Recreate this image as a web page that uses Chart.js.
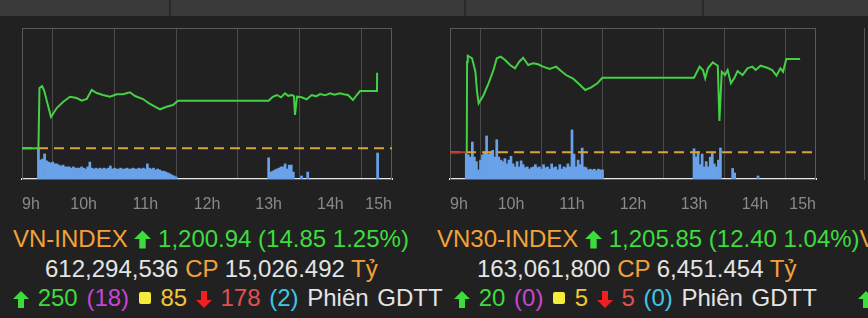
<!DOCTYPE html>
<html>
<head>
<meta charset="utf-8">
<script src="https://cdn.jsdelivr.net/npm/chart.js@4.4.1/dist/chart.umd.min.js"></script>
<style>
  body { margin: 0; background: #212121; width: 868px; height: 318px; overflow: hidden; position: relative;
         font-family: "Liberation Sans", Arial, sans-serif; }
  .topbar { position: absolute; left: 0; top: 0; width: 868px; height: 16px; background: #3a3a3a; }
  .div { position: absolute; top: 0; width: 2px; height: 16px; background: #2a2a2a; }
  canvas { position: absolute; top: 0; }
  .row { position: absolute; white-space: nowrap; font-size: 24px; line-height: 30px; }
  .r3 { word-spacing: 2px; }
  .o { color: #f3a23a; }
  .g { color: #3ddc3d; }
  .w { color: #e4e4e4; }
  .m { color: #c646d6; }
  .y { color: #f2c53a; }
  .r { color: #e25050; }
  .c { color: #42c6e4; }
  .sq { display: inline-block; width: 12px; height: 12px; background: #f4ee3a; border-radius: 2px; vertical-align: 2px; margin: 0 1px; }
  svg { vertical-align: -2px; }
</style>
</head>
<body>
<div class="topbar"></div>
<div class="div" style="left:169px"></div>
<div class="div" style="left:464px"></div>
<div class="div" style="left:702px"></div>
<div style="position:absolute;left:864px;top:28px;width:1px;height:152px;background:#555"></div>

<canvas id="vnChart" width="434" height="220" style="left:0"></canvas>
<canvas id="vn30Chart" width="434" height="220" style="left:434px"></canvas>

<div class="row" style="left:13px;top:224px">
  <span class="o">VN-INDEX</span>
  <svg width="17" height="19" viewBox="0 0 16 17"><polygon points="8,0 16,8 11,8 11,17 5,17 5,8 0,8" fill="#3ddc3d"/></svg>
  <span class="g">1,200.94 (14.85 1.25%)</span>
</div>
<div class="row" style="left:45px;top:254px">
  <span class="w">612,294,536</span> <span class="o">CP</span> <span class="w">15,026.492</span> <span class="o">Tỷ</span>
</div>
<div class="row r3" style="left:13px;top:283px">
  <svg width="16" height="17" viewBox="0 0 16 17"><polygon points="8,0 16,8 11,8 11,17 5,17 5,8 0,8" fill="#3ddc3d"/></svg>
  <span class="g">250</span> <span class="m">(18)</span> <span class="sq"></span> <span class="y">85</span>
  <svg width="16" height="17" viewBox="0 0 16 17"><polygon points="8,17 16,9 11,9 11,0 5,0 5,9 0,9" fill="#ee2020"/></svg>
  <span class="r">178</span> <span class="c">(2)</span> <span class="w">Phiên GDTT</span>
</div>

<div class="row" style="left:437px;top:224px">
  <span class="o">VN30-INDEX</span>
  <svg width="17" height="19" viewBox="0 0 16 17"><polygon points="8,0 16,8 11,8 11,17 5,17 5,8 0,8" fill="#3ddc3d"/></svg>
  <span class="g">1,205.85 (12.40 1.04%)</span><span class="o">V</span>
</div>
<div class="row" style="left:477px;top:254px">
  <span class="w">163,061,800</span> <span class="o">CP</span> <span class="w">6,451.454</span> <span class="o">Tỷ</span>
</div>
<div class="row r3" style="left:454px;top:283px">
  <svg width="16" height="17" viewBox="0 0 16 17"><polygon points="8,0 16,8 11,8 11,17 5,17 5,8 0,8" fill="#3ddc3d"/></svg>
  <span class="g">20</span> <span class="m">(0)</span> <span class="sq"></span> <span class="y">5</span>
  <svg width="16" height="17" viewBox="0 0 16 17"><polygon points="8,17 16,9 11,9 11,0 5,0 5,9 0,9" fill="#ee2020"/></svg>
  <span class="r">5</span> <span class="c">(0)</span> <span class="w">Phiên GDTT</span>
</div>
<div class="row" style="left:858px;top:283px">
  <svg width="16" height="17" viewBox="0 0 16 17"><polygon points="8,0 16,8 11,8 11,17 5,17 5,8 0,8" fill="#3ddc3d"/></svg>
</div>

<script>
// x axis: minutes after 9:00
const hourLabels = ["9h", "10h", "11h", "12h", "13h", "14h", "15h"];

// VN-INDEX
const vnRef = 1186.09;
const vnTimes = [0, 16, 17, 19.5, 21.4, 28.2, 33.8, 39.9, 46.7, 53.2, 58.1, 63, 67.8, 72.7, 78.8, 85.6, 92.1, 98.3, 105, 110,
  117.7, 124.5, 134.3, 140.8, 146.9, 151.8, 240, 244, 248, 252, 255.9, 259, 262.7, 264.6, 265.6, 267.6, 272.1, 277, 281.9, 286,
  290, 295, 299.7, 304, 309.4, 313, 317.2, 322, 325.7, 328.9, 345.4, 345.5];
const vnPrices = [1186.09, 1186.09, 1197.93, 1198.33, 1197.54, 1192.24, 1194.00, 1195.18, 1196.22, 1195.97, 1195.44, 1195.77, 1197.54, 1196.95, 1196.56, 1196.22, 1196.70, 1196.70, 1197.09, 1196.36,
  1195.77, 1194.79, 1193.75, 1194.26, 1194.59, 1195.44, 1195.44, 1196.2, 1196.56, 1196.1, 1196.89, 1196.4, 1196.56, 1196.36, 1192.63, 1196.22, 1196.11, 1195.71, 1196.56, 1196.3,
  1196.75, 1196.5, 1196.89, 1196.6, 1196.89, 1196.7, 1196.56, 1195.58, 1196.56, 1197.34, 1197.34, 1200.94];
// volume, million shares per 2 minutes
const vnVolAm = [10.3, 6.3, 6.6, 8.3, 6.0, 5.6, 5.3, 5.6, 5.0, 5.0, 4.6, 4.3, 4.6, 4.0, 4.0, 4.0, 3.6, 4.0, 3.6, 3.6,
  3.6, 4.0, 3.6, 3.3, 4.0, 5.6, 3.6, 3.3, 3.6, 3.3, 3.6, 3.3, 3.6, 3.3, 3.6, 4.3, 3.3, 3.6, 3.3, 3.3,
  3.6, 3.3, 3.3, 3.6, 3.3, 3.3, 3.6, 3.3, 3.3, 3.6, 3.3, 3.6, 3.3, 5.0, 3.6, 3.3, 3.6, 3.0, 3.3, 3.0,
  2.6, 2.6, 2.3, 2.0, 1.7, 1.3, 1.0, 0.7];
const vnVolPm = [7.0, 2.3, 2.6, 3.0, 3.3, 3.6, 4.0, 4.0, 5.0, 3.3, 4.6, 4.6, 2.3];
const vnVolExtraTimes = [272, 278, 346];
const vnVolExtra = [1.0, 2.3, 8.6];

// VN30-INDEX
const vn30Ref = 1193.45;
const vn30Times = [0, 16.5, 16.8, 17.5, 21.7, 25, 26.6, 28.2, 33.1, 37.9, 42.8, 46, 49.9, 54.2, 59.1, 63.9, 68.1, 72, 76.9, 81.7,
  86.6, 91.5, 98, 104.4, 109.3, 114.1, 120.7, 127.2, 133, 138.5, 145, 149.8, 240, 245.5, 248.8, 251, 253.7, 258.5, 263.4, 265,
  267.3, 270.5, 273.1, 276.3, 279.5, 282.9, 287.7, 292.6, 297.4, 300.7, 305.5, 312, 316.9, 321.1, 325, 327.6, 330.8, 344.4];
const vn30Prices = [1193.45, 1193.45, 1205.49, 1206.29, 1205.94, 1204.16, 1201.50, 1199.96, 1201.07, 1202.62, 1204.39, 1205.94, 1206.16, 1205.72, 1205.05, 1204.61, 1205.49, 1206.02, 1205.05, 1205.28,
  1205.15, 1204.83, 1204.52, 1204.83, 1204.25, 1203.72, 1203.28, 1202.49, 1201.73, 1202.04, 1202.62, 1203.36, 1203.36, 1204.83, 1204.39, 1203.28, 1204.61, 1205.41, 1204.96, 1197.61,
  1204.16, 1203.72, 1204.39, 1202.62, 1203.28, 1204.25, 1203.72, 1204.61, 1204.83, 1204.39, 1204.96, 1204.69, 1204.39, 1203.63, 1204.61, 1204.16, 1205.85, 1205.85];
const vn30VolAm = [3.4, 3.2, 2.9, 4.9, 2.9, 2.3, 1.2, 2.5, 3.2, 3.6, 5.7, 3.3, 3.6, 3.8, 2.9, 5.2, 2.9, 2.5, 2.3, 2.7,
  2.0, 2.5, 3.0, 2.0, 1.6, 2.3, 1.6, 2.4, 1.9, 1.5, 1.6, 1.3, 1.5, 1.6, 1.9, 1.5, 1.6, 1.3, 1.9, 1.5,
  1.6, 1.3, 2.0, 1.5, 1.6, 1.2, 1.9, 1.3, 1.6, 1.5, 2.0, 1.6, 6.5, 3.3, 1.6, 2.5, 1.9, 4.1, 1.6, 1.5,
  1.2, 1.3, 1.2, 1.3, 1.1, 1.3, 1.2, 1.2];
const vn30VolPm = [4.0, 2.9, 3.6, 1.9, 3.3, 1.6, 2.3, 1.6, 2.9, 3.6, 2.0, 1.6, 2.5, 4.1];
const vn30VolExtraTimes = [278, 280, 303];
const vn30VolExtra = [1.4, 0.8, 0.4];

const AM_START = 16, PM_START = 240, BIN = 2;

// outline of the plot area (top / left / right), bottom line comes from the x axis border
const frame = {
  id: "frame",
  beforeDatasetsDraw(chart) {
    const { ctx, chartArea: a } = chart;
    ctx.save();
    ctx.strokeStyle = "#5a5a5a";
    ctx.lineWidth = 1;
    ctx.strokeRect(a.left + 0.5, a.top + 0.5, a.right - a.left - 1, a.bottom - a.top);
    ctx.restore();
  }
};

function volPoints(am, pm, extraT, extraV) {
  const pts = [];
  am.forEach((v, i) => pts.push({ x: AM_START + i * BIN, y: v }));
  pm.forEach((v, i) => pts.push({ x: PM_START + i * BIN, y: v }));
  extraT.forEach((t, i) => pts.push({ x: t, y: extraV[i] }));
  return pts;
}

function drawChart(id, times, prices, ref, vols, yMin, yMax, volMax, pad, openColor) {
  const openEnd = times[1];
  new Chart(document.getElementById(id), {
    type: "line",
    data: {
      datasets: [
        {
          data: times.map((t, i) => ({ x: t, y: prices[i] })),
          borderColor: "#45d045",
          borderWidth: 2,
          pointRadius: 0,
          tension: 0,
          yAxisID: "y",
          order: 1,
          segment: { borderColor: c => (c.p1.parsed.x <= openEnd ? openColor : undefined) }
        },
        {
          data: [{ x: 0, y: ref }, { x: 360, y: ref }],
          borderColor: "#d9a43c",
          borderWidth: 2,
          borderDash: [10, 6],
          pointRadius: 0,
          yAxisID: "y",
          order: 2
        },
        {
          type: "bar",
          data: vols,
          backgroundColor: "#6aa2ea",
          borderWidth: 0,
          barPercentage: 1,
          categoryPercentage: 1,
          yAxisID: "yv",
          order: 3
        }
      ]
    },
    options: {
      responsive: false,
      animation: false,
      layout: { padding: pad },
      plugins: { legend: { display: false }, tooltip: { enabled: false } },
      scales: {
        x: {
          type: "linear",
          min: 0,
          max: 360,
          offset: false,
          afterFit: s => { s.height = 41; },
          grid: { color: "#4a4a4a", lineWidth: 1, drawTicks: false },
          border: { color: "#e6e6e6", width: 2 },
          ticks: {
            stepSize: 60,
            align: "inner",
            padding: 16,
            color: "#8a8a8a",
            font: { family: "Liberation Sans", size: 16 },
            callback: v => hourLabels[v / 60]
          }
        },
        y: { display: false, min: yMin, max: yMax },
        yv: { display: false, min: 0, max: volMax }
      }
    },
    plugins: [frame]
  });
}

drawChart("vnChart", vnTimes, vnPrices, vnRef,
  volPoints(vnVolAm, vnVolPm, vnVolExtraTimes, vnVolExtra),
  1180.06, 1209.72, 50, { left: 22, right: 42, top: 28, bottom: 0 }, "#45d045");

drawChart("vn30Chart", vn30Times, vn30Prices, vn30Ref,
  volPoints(vn30VolAm, vn30VolPm, vn30VolExtraTimes, vn30VolExtra),
  1189.9, 1209.97, 20, { left: 12, right: 52, top: 28, bottom: 0 }, "#c0392b");
</script>
</body>
</html>
